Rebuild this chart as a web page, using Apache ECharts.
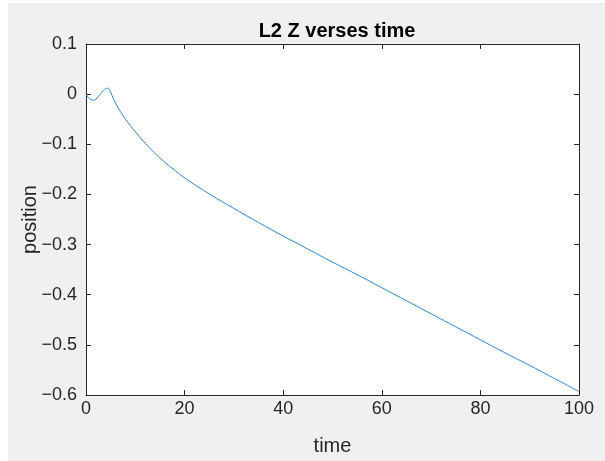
<!DOCTYPE html>
<html><head><meta charset="utf-8">
<script src="https://cdn.jsdelivr.net/npm/echarts@6/dist/echarts.min.js"></script>
<style>
html,body{margin:0;padding:0;background:#fff;}
#bg{position:absolute;left:8px;top:3px;width:597px;height:458px;background:#f0f0f0;}
#chart{position:absolute;left:0;top:0;width:605px;height:461px;}
</style></head>
<body><div id="bg"></div><div id="chart"></div>
<script>
const titleText = 'L2 Z verses time';
const xName = 'time';
const yName = 'position';
const timeValues = [0,0.5,1,1.5,2,2.5,3,3.5,4,4.4,4.8,5.3,6,7,8,9,10,12,14,16,18,20,25,30,35,40,45,50,55,60,65,70,75,80,85,90,95,100];
const positionValues = [0,-0.007,-0.011,-0.012,-0.010,-0.005,0.001,0.007,0.011,0.012,0.008,-0.003,-0.018,-0.035,-0.050,-0.063,-0.075,-0.098,-0.118,-0.136,-0.152,-0.167,-0.199,-0.228,-0.256,-0.283,-0.309,-0.335,-0.360,-0.386,-0.412,-0.438,-0.464,-0.490,-0.516,-0.541,-0.567,-0.593];

const chart = echarts.init(document.getElementById('chart'), null, {renderer:'canvas'});
const font = '"Liberation Sans", Arial, sans-serif';
const axCol = '#262626';
const common = {
  axisLine:{show:true,onZero:false,lineStyle:{color:axCol,width:1}},
  axisTick:{show:true,inside:true,length:5,lineStyle:{color:axCol}},
  splitLine:{show:false}
};
const fmt = v => { const r = Math.round(v*10)/10; return r === 0 ? '0' : String(r).replace('-', '\u2212'); };
chart.setOption({
  backgroundColor:'transparent',
  animation:false,
  title:{text:titleText,left:332,textAlign:'center',top:16,
    textStyle:{fontFamily:font,fontSize:20,fontWeight:'bold',color:'#000'}},
  grid:{left:86,right:26,top:44,bottom:61,show:true,backgroundColor:'#fff',borderWidth:0},
  xAxis:[
    Object.assign({type:'value',min:0,max:100,interval:20,position:'bottom',
      name:xName,nameLocation:'middle',nameGap:41,nameMoveOverlap:false,
      nameTextStyle:{fontFamily:font,fontSize:20,color:axCol},
      axisLabel:{fontFamily:font,fontSize:18,color:axCol,margin:5}},common),
    Object.assign({type:'value',min:0,max:100,interval:20,position:'top',
      axisLabel:{show:false}},common)
  ],
  yAxis:[
    Object.assign({type:'value',min:-0.6,max:0.1,interval:0.1,position:'left',
      name:yName,nameLocation:'middle',nameGap:46,nameMoveOverlap:false,
      nameTextStyle:{fontFamily:font,fontSize:20,color:axCol},
      axisLabel:{fontFamily:font,fontSize:18,color:axCol,margin:9,formatter:fmt}},common),
    Object.assign({type:'value',min:-0.6,max:0.1,interval:0.1,position:'right',
      axisLabel:{show:false}},common)
  ],
  series:[{type:'line',xAxisIndex:0,yAxisIndex:0,showSymbol:false,smooth:0.3,
    data:timeValues.map((t,i)=>[t,positionValues[i]]),
    lineStyle:{color:'#2f86cc',width:1}}]
});
</script></body></html>
